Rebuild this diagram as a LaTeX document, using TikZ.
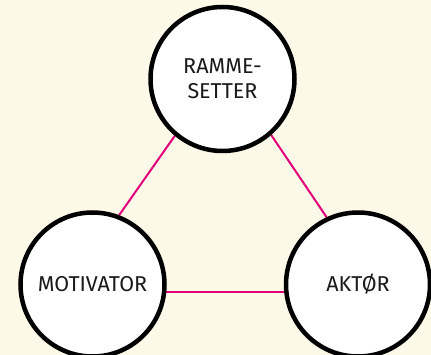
\documentclass[tikz,border=0pt]{standalone}
\usepackage{fontspec}
\setmainfont{Fira Sans}
\usetikzlibrary{backgrounds}
\definecolor{bgcream}{HTML}{FDF9E8}
\definecolor{linkpink}{HTML}{E2007A}
\definecolor{txtdark}{HTML}{1A1A1A}
\begin{document}
\begin{tikzpicture}[x=1pt,y=-1pt,
  role/.style={circle, draw=black, line width=4.5pt, fill=white,
    minimum size=144pt, inner sep=0pt, align=center, text=txtdark,
    font=\fontsize{21.5}{25}\selectfont},
  link/.style={draw=linkpink, line width=2pt}]
\useasboundingbox (0,0) rectangle (431,355);
\begin{scope}
\clip (0,0) rectangle (431,355);
\node[role] (top) at (222.5,79) {RAMME-\\SETTER};
\node[role] (mot) at (92.5,284.5) {MOTIVATOR};
\node[role] (akt) at (358,284.5) {AKTØR};
\begin{pgfonlayer}{background}
\fill[bgcream] (0,0) rectangle (431,355);
\draw[link] (top.230.6) -- (mot.69.4);
\draw[link] (top.311.5) -- (akt.115.4);
\draw[link] (mot.-6.5) -- (akt.186.5);
\end{pgfonlayer}
\end{scope}
\end{tikzpicture}
\end{document}
